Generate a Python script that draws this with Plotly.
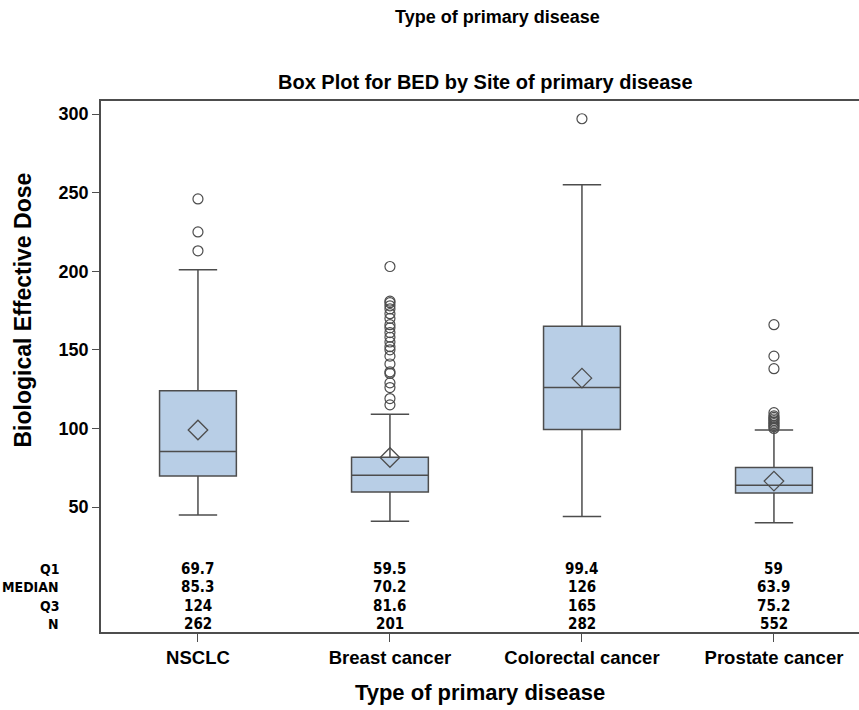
import plotly.graph_objects as go

categories = ["NSCLC", "Breast cancer", "Colorectal cancer", "Prostate cancer"]
q1 = [69.7, 59.5, 99.4, 59]
median = [85.3, 70.2, 126, 63.9]
q3 = [124, 81.6, 165, 75.2]
n_obs = [262, 201, 282, 552]
lower_whisker = [45, 41, 44, 40]
upper_whisker = [201, 109, 255, 99]
means = [99, 81.5, 132, 66.5]

outliers = {
    "NSCLC": [213, 225, 246],
    "Breast cancer": [115, 119, 126, 129, 135, 136, 141, 146, 150, 152, 155, 158,
                      161, 164, 166, 170, 173, 176, 178, 180, 181, 203],
    "Colorectal cancer": [297],
    "Prostate cancer": [100, 101, 102, 103, 104, 105, 106, 107, 108, 110, 138, 146, 166],
}

row_labels = ["Q1", "MEDIAN", "Q3", "N"]
row_values = [q1, median, q3, n_obs]
row_y = [10.6, -0.9, -13, -24.4]

xidx = list(range(len(categories)))
line_col = "#4d4d4d"
font_main = "Liberation Sans, Arial, sans-serif"
font_cond = "DejaVu Sans Condensed, Liberation Sans Narrow, Arial Narrow, sans-serif"

# plot area in page pixels: x 101..859, y 101..632
def px_x(p):
    return (p - 101) / 758.0

def px_y(p):
    return (632 - p) / 531.0

fig = go.Figure()
fig.add_trace(go.Box(
    x=xidx, q1=q1, median=median, q3=q3,
    lowerfence=lower_whisker, upperfence=upper_whisker,
    width=0.4, whiskerwidth=0.5,
    fillcolor="#b8cee6", line=dict(color=line_col, width=1.5),
    boxpoints=False, showlegend=False, hoverinfo="skip",
))

ox, oy = [], []
for i, c in enumerate(categories):
    for v in outliers[c]:
        ox.append(i)
        oy.append(v)
fig.add_trace(go.Scatter(
    x=ox, y=oy, mode="markers", showlegend=False,
    marker=dict(symbol="circle-open", size=10, color=line_col, line=dict(width=1.2)),
))
fig.add_trace(go.Scatter(
    x=xidx, y=means, mode="markers", showlegend=False,
    marker=dict(symbol="diamond-open", size=15, color=line_col, line=dict(width=1.3)),
))

def fmt(v):
    return f"{v:g}"

table_font = dict(family=font_cond, size=15, color="black", weight="bold")
label_font = dict(family=font_cond, size=14, color="black", weight="bold")
annotations = []
for lab, vals, yv in zip(row_labels, row_values, row_y):
    annotations.append(dict(
        x=px_x(61), xref="paper", y=yv, yref="y", text=lab, showarrow=False,
        xanchor="right", yanchor="middle", font=label_font,
    ))
    for i, v in enumerate(vals):
        annotations.append(dict(
            x=i, xref="x", y=yv, yref="y", text=fmt(v), showarrow=False,
            xanchor="center", yanchor="middle", font=table_font,
        ))

annotations.append(dict(
    x=px_x(497), xref="paper", y=px_y(17), yref="paper",
    text="Type of primary disease", showarrow=False,
    xanchor="center", yanchor="middle",
    font=dict(family=font_main, size=18, color="black", weight="bold"),
))
annotations.append(dict(
    x=px_x(485), xref="paper", y=px_y(82), yref="paper",
    text="Box Plot for BED by Site of primary disease", showarrow=False,
    xanchor="center", yanchor="middle",
    font=dict(family=font_main, size=20, color="black", weight="bold"),
))
annotations.append(dict(
    x=px_x(23), xref="paper", y=175, yref="y",
    text="Biological Effective Dose", showarrow=False, textangle=-90,
    xanchor="center", yanchor="middle",
    font=dict(family=font_main, size=23, color="black", weight="bold"),
))

fig.update_layout(
    width=859, height=710,
    margin=dict(l=101, r=0, t=101, b=78),
    paper_bgcolor="white", plot_bgcolor="white",
    annotations=annotations,
    xaxis=dict(
        range=[-0.505, 3.443], tickvals=xidx, ticktext=categories,
        showgrid=False, zeroline=False,
        showline=True, linecolor=line_col, linewidth=1.5, mirror=True,
        ticks="outside", ticklen=8, tickcolor=line_col,
        tickfont=dict(family=font_main, size=18.5, color="black", weight="bold"),
        title=dict(text="Type of primary disease", standoff=18,
                   font=dict(family=font_main, size=22, color="black", weight="bold")),
    ),
    yaxis=dict(
        range=[-29.5, 308.3], tickvals=[50, 100, 150, 200, 250, 300],
        showgrid=False, zeroline=False,
        showline=True, linecolor=line_col, linewidth=1.5,
        ticks="outside", ticklen=7, tickcolor=line_col,
        tickfont=dict(family=font_main, size=18, color="black", weight="bold"),
    ),
)

fig.write_html("out.html", config={"displayModeBar": False},
               post_script="document.body.style.margin='0';")
